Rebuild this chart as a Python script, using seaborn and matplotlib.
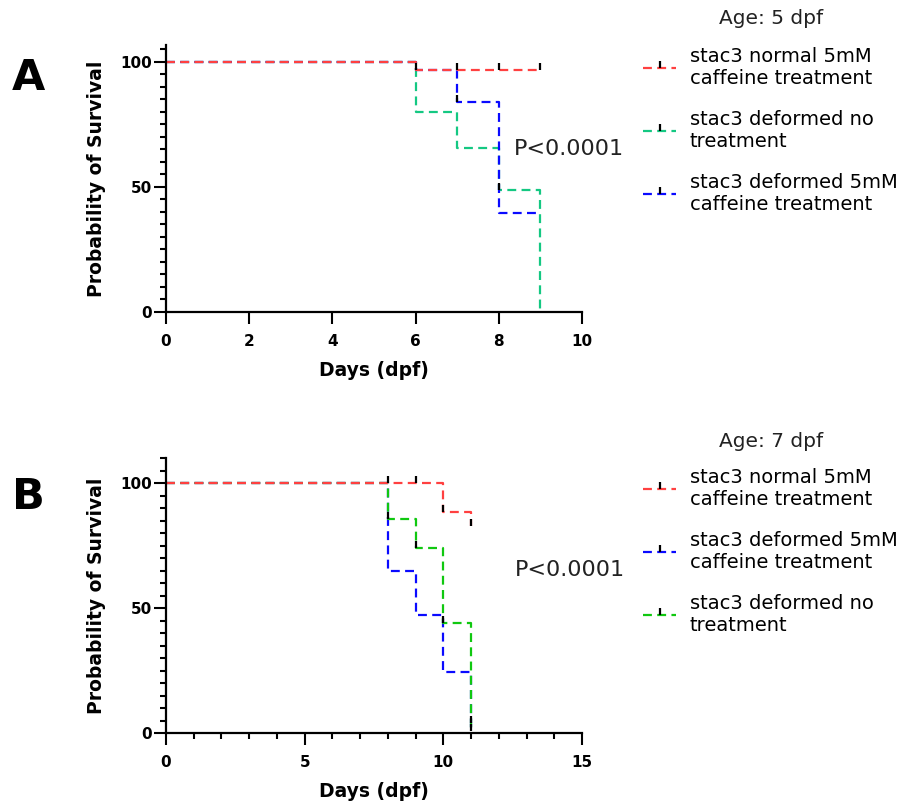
import numpy as np
import pandas as pd
import matplotlib
matplotlib.use("Agg")
import matplotlib.pyplot as plt
import seaborn as sns
from matplotlib.lines import Line2D
from matplotlib.ticker import MultipleLocator

sns.set_style("ticks", {"axes.edgecolor": "black", "xtick.color": "black",
                        "ytick.color": "black", "text.color": "black",
                        "axes.labelcolor": "black"})
plt.rcParams['font.family'] = ['DejaVu Sans']

# ---- panel A data (Age: 5 dpf) ----
a_labels = ["stac3 normal 5mM\ncaffeine treatment",
            "stac3 deformed no\ntreatment",
            "stac3 deformed 5mM\ncaffeine treatment"]
a_colors = ["#ff4040", "#14c882", "#0a0aff"]
a_days = [[0, 6, 9], [0, 6, 7, 8, 9], [0, 6, 7, 8, 9]]
a_surv = [[100, 96.9, 96.9], [100, 80.0, 65.6, 48.8, 0], [100, 96.9, 84.1, 39.6, 39.6]]
a_cens_days = [[6, 7, 8, 9], [8], [7]]
a_cens_surv = [[96.9, 96.9, 96.9, 96.9], [48.8], [84.1]]

# ---- panel B data (Age: 7 dpf) ----
b_labels = ["stac3 normal 5mM\ncaffeine treatment",
            "stac3 deformed 5mM\ncaffeine treatment",
            "stac3 deformed no\ntreatment"]
b_colors = ["#ff4040", "#0a0aff", "#10c810"]
b_days = [[0, 10, 11, 11], [0, 8, 9, 10, 11], [0, 8, 9, 10, 11]]
b_surv = [[100, 88.5, 88.5, 83.0], [100, 64.8, 47.1, 24.5, 0], [100, 85.7, 74.0, 44.0, 0]]
b_cens_days = [[8, 9, 10, 11], [11], [8, 9, 10, 11]]
b_cens_surv = [[100, 100, 88.5, 83.0], [4], [85.7, 74.0, 44.0, 1]]

_fs_tick = 11
_fs_lab = 13.5
_fs_leg = 14


def km_panel(ax, labels, colors, days, surv, cdays, csurv, xmax, xmajor, xminor, ytop, px):
    rows = []
    for lab, d, s in zip(labels, days, surv):
        for di, si in zip(d, s):
            rows.append((lab, di, si))
    df = pd.DataFrame(rows, columns=["group", "day", "surv"])
    # red (first) drawn last so it sits on top
    order = list(range(1, len(labels))) + [0]
    for i in order:
        sub = df[df.group == labels[i]]
        sns.lineplot(data=sub, x="day", y="surv", color=colors[i], ax=ax,
                     drawstyle="steps-post", estimator=None, sort=False,
                     linewidth=1.6, legend=False)
    for ln in ax.lines:
        ln.set_dashes([4, 2.4])
    for i in order:
        ax.plot(cdays[i], csurv[i], linestyle="none", marker=2, color="k",
                markersize=5, markeredgewidth=1.6, zorder=5)

    ax.set_xlim(0, xmax)
    ax.set_ylim(0, ytop)
    ax.xaxis.set_major_locator(MultipleLocator(xmajor))
    if xminor:
        ax.xaxis.set_minor_locator(MultipleLocator(xminor))
    ax.yaxis.set_major_locator(MultipleLocator(50))
    ax.yaxis.set_minor_locator(MultipleLocator(5))
    ax.tick_params(which="major", length=8.5, width=1.5, direction="out")
    ax.tick_params(which="minor", length=4.5, width=1.5, direction="out")
    ax.tick_params(axis="y", which="major", pad=1.5, labelsize=_fs_tick)
    ax.tick_params(axis="x", which="major", pad=7, labelsize=_fs_tick)
    for t in ax.get_xticklabels() + ax.get_yticklabels():
        t.set_fontweight("bold")
    for sp in ["top", "right"]:
        ax.spines[sp].set_visible(False)
    for sp in ["left", "bottom"]:
        ax.spines[sp].set_linewidth(1.6)
    ax.set_xlabel("Days (dpf)", fontsize=_fs_lab, fontweight="bold", labelpad=9)
    ax.set_ylabel("Probability of Survival", fontsize=_fs_lab, fontweight="bold", labelpad=10)
    ax.text(px, 65, "P<0.0001", fontsize=16, ha="left", va="center", color="#222222")

    handles = [Line2D([], [], color=c, dashes=[4, 2.4], linewidth=1.6, marker=2,
                      markeredgecolor="k", markersize=5, markeredgewidth=1.6)
               for c in colors]
    return handles


W, H = 904, 808
fig = plt.figure(figsize=(W / 100, H / 100), dpi=100)
axA = fig.add_axes([166 / W, 1 - 312 / H, 416 / W, 267 / H])
axB = fig.add_axes([166 / W, 1 - 733 / H, 416 / W, 275 / H])

hA = km_panel(axA, a_labels, a_colors, a_days, a_surv, a_cens_days, a_cens_surv,
              10, 2, None, 106.7, 8.37)
hB = km_panel(axB, b_labels, b_colors, b_days, b_surv, b_cens_days, b_cens_surv,
              15, 5, 1, 110, 12.58)

for ax, h, labs, top, title, tcy in [(axA, hA, a_labels, 47, "Age: 5 dpf", 18),
                                     (axB, hB, b_labels, 468, "Age: 7 dpf", 441)]:
    fig.legend(h, labs, loc="upper left", bbox_to_anchor=(643 / W, 1 - top / H),
               frameon=False, fontsize=_fs_leg, handlelength=1.7, handletextpad=0.7,
               labelspacing=1.12, borderpad=0, borderaxespad=0, numpoints=1)
    fig.text(771 / W, 1 - tcy / H, title, fontsize=14.5, ha="center", va="center",
             color="#222222")

fig.text(28 / W, 1 - 78 / H, "A", fontsize=31, fontweight="bold", ha="center", va="center")
fig.text(28 / W, 1 - 497 / H, "B", fontsize=31, fontweight="bold", ha="center", va="center")

plt.savefig("out.png", dpi=100)
